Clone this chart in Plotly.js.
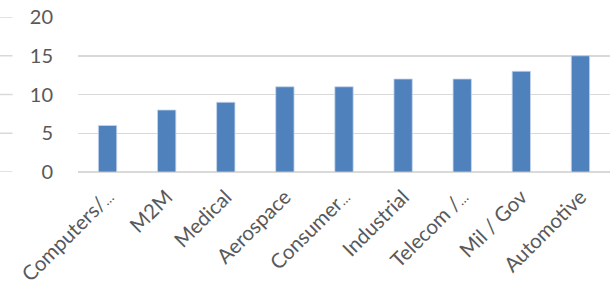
<!DOCTYPE html>
<html>
<head>
<meta charset="utf-8">
<script src="https://cdn.plot.ly/plotly-3.0.1.min.js"></script>
<style>html,body{margin:0;padding:0;background:#fff;}#chart{width:615px;height:286px;}</style>
</head>
<body>
<div id="chart"></div>
<script>
const categories = ["Computers/…", "M2M", "Medical", "Aerospace", "Consumer…", "Industrial", "Telecom /…", "Mil / Gov", "Automotive"];
const values = [6, 8, 9, 11, 11, 12, 12, 13, 15];
const yTicks = [0, 5, 10, 15, 20];

// tick text: same labels, with a compact ellipsis like the original's
const tickText = categories.map(c => c.replace("…", '<span style="font-size:14px">…</span>'));

const yfont = {family: "Lato, 'Open Sans', sans-serif", size: 20, color: "#595959"};
const xfont = {family: "Lato, 'Open Sans', sans-serif", size: 20.5, color: "#595959"};
const shapes = yTicks.map(v => ({
  type: "line", xref: "paper", yref: "y",
  x0: -0.147, x1: -0.123, y0: v, y1: v,
  line: {color: "#d9d9d9", width: 1.5}
}));

Plotly.newPlot("chart", [{
  type: "bar",
  x: categories,
  y: values,
  marker: {color: "#4f81bd", line: {color: "#c6d6ec", width: 0.8}},
  hoverinfo: "none"
}], {
  width: 615, height: 286,
  margin: {l: 78, r: 5, t: 17, b: 114},
  paper_bgcolor: "#fff", plot_bgcolor: "#fff",
  bargap: 0.69,
  font: yfont,
  showlegend: false,
  shapes: shapes,
  xaxis: {
    tickmode: "array", tickvals: categories, ticktext: tickText,
    tickangle: -45, tickfont: xfont, showgrid: false, showline: false,
    zeroline: false, ticks: "outside", ticklen: 4, tickcolor: "rgba(0,0,0,0)",
    automargin: false
  },
  yaxis: {
    range: [0, 20], tickvals: yTicks, tickfont: yfont,
    showgrid: true, gridcolor: "#d9d9d9", gridwidth: 1.5,
    zeroline: true, zerolinecolor: "#d9d9d9", zerolinewidth: 1.5,
    showline: false, ticks: "outside", ticklen: 20, tickcolor: "rgba(0,0,0,0)",
    automargin: false
  }
}, {displayModeBar: false, staticPlot: true});
</script>
</body>
</html>
